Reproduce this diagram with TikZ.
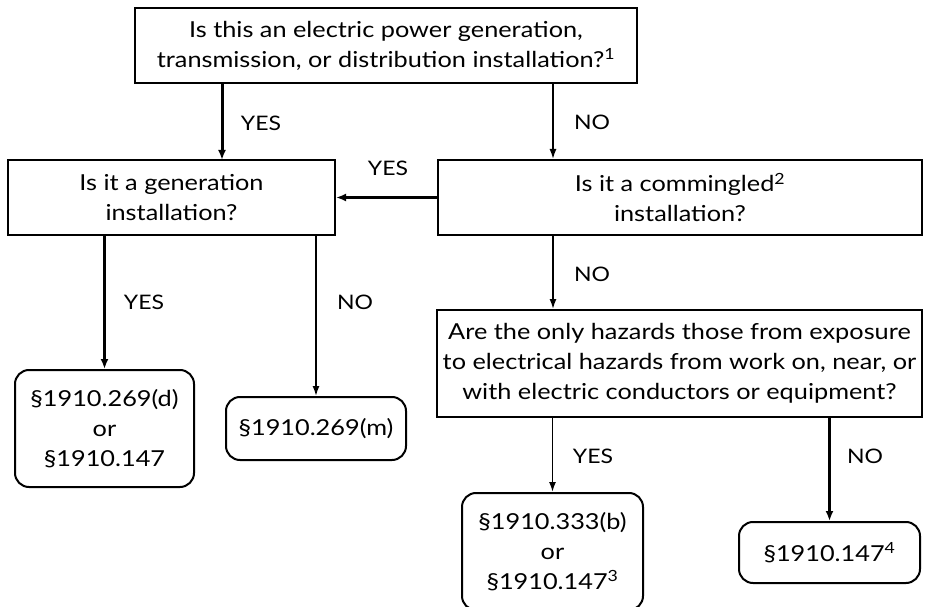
\documentclass[tikz,border=0pt]{standalone}
\usepackage{fontspec}
\setmainfont{Lato}[FakeStretch=1.15]
\usetikzlibrary{arrows.meta}
\begin{document}
\begin{tikzpicture}[x=1pt,y=-1pt,
  every node/.style={font=\fontsize{22}{30}\selectfont, inner sep=0pt, align=center},
  qbox/.style={draw, line width=2pt, rectangle},
  abox/.style={draw, line width=2pt, rectangle, rounded corners=14pt},
  thin arrow/.style={line width=1.6pt, -{Latex[length=10pt,width=7pt]}},
  thick arrow/.style={line width=3pt, -{Latex[length=10pt,width=8pt]}},
  lbl/.style={font=\fontsize{20}{22}\selectfont}
]
\useasboundingbox (0,0) rectangle (930,607);
\node[qbox, minimum width=502pt, minimum height=75pt] (top) at (386,45.5)
  {Is this an electric power generation,\\transmission, or distribution installation?\textsuperscript{1}};
\node[qbox, minimum width=327pt, minimum height=75pt] (gen) at (171.5,197.5)
  {Is it a generation\\installation?};
\node[qbox, minimum width=484pt, minimum height=75pt] (comm) at (680,197.5)
  {Is it a commingled\textsuperscript{2}\\installation?};
\node[qbox, minimum width=485pt, minimum height=107pt] (haz) at (679.5,363.5)
  {Are the only hazards those from exposure\\to electrical hazards from work on, near, or\\with electric conductors or equipment?};
\node[abox, minimum width=179pt, minimum height=117pt] (d) at (104.5,428.5)
  {§1910.269(d)\\or\\§1910.147};
\node[abox, minimum width=180pt, minimum height=63pt] (m) at (316,428.5)
  {§1910.269(m)};
\node[abox, minimum width=181pt, minimum height=117pt] (b) at (552.5,551.5)
  {§1910.333(b)\\or\\§1910.147\textsuperscript{3}};
\node[abox, minimum width=181pt, minimum height=61pt] (f) at (829.5,552.5)
  {§1910.147\textsuperscript{4}};
\coordinate (genin) at (222,160);
\coordinate (ncol) at (553,160);
\draw[thick arrow] (top.south -| genin) -- (genin);
\draw[thin arrow] (top.south -| ncol) -- (comm.north -| ncol);
\draw[thick arrow] (comm.west) -- (gen.east);
\draw[thick arrow] (gen.south -| d.north) -- (d.north);
\draw[thin arrow] (gen.south -| m.north) -- (m.north);
\draw[thin arrow] (comm.south -| ncol) -- (haz.north -| ncol);
\draw[thin arrow] (haz.south -| b.north) -- (b.north);
\draw[thick arrow] (haz.south -| f.north) -- (f.north);
\node[lbl] (l1) at (261,123) {YES};
\node[lbl] (l2) at (592,122) {NO};
\node[lbl] (l3) at (388,168) {YES};
\node[lbl] (l4) at (144,302) {YES};
\node[lbl] (l5) at (355,302) {NO};
\node[lbl] (l6) at (592,274) {NO};
\node[lbl] (l7) at (593,456) {YES};
\node[lbl] (l8) at (865,456) {NO};
\end{tikzpicture}
\end{document}
